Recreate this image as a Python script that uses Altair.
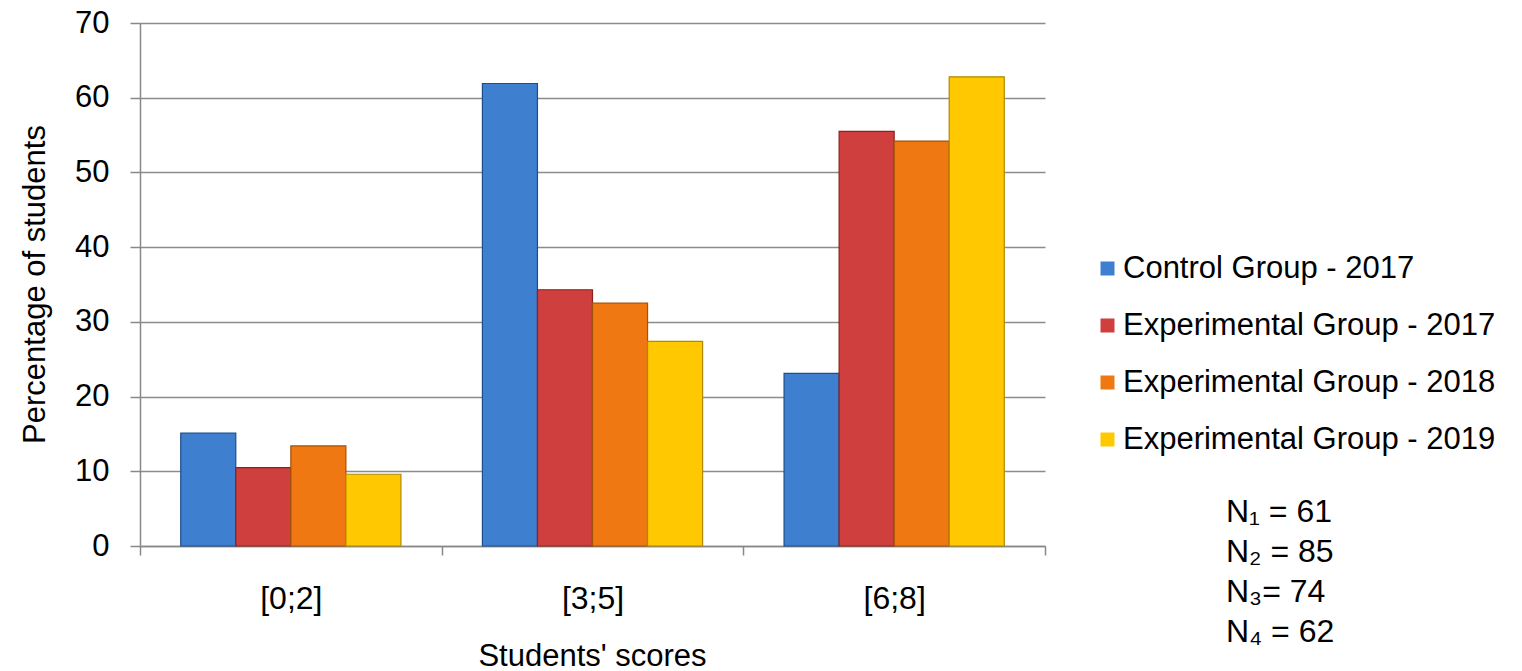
import altair as alt
import pandas as pd

categories = ["[0;2]", "[3;5]", "[6;8]"]
series = [
    "Control Group - 2017",
    "Experimental Group - 2017",
    "Experimental Group - 2018",
    "Experimental Group - 2019",
]
control_2017 = [15.1, 61.9, 23.1]
experimental_2017 = [10.5, 34.3, 55.5]
experimental_2018 = [13.4, 32.5, 54.2]
experimental_2019 = [9.6, 27.4, 62.8]
sample_sizes = ["N\u2081 = 61", "N\u2082 = 85", "N\u2083= 74", "N\u2084 = 62"]

fill_colors = ["#3f7fcf", "#cf3f3d", "#f07812", "#ffc800"]
edge_colors = ["#1d4e8c", "#8a2222", "#a4520a", "#b08a00"]

FONT = "Liberation Sans"

rows = []
for s, vals in zip(series, [control_2017, experimental_2017, experimental_2018, experimental_2019]):
    for c, v in zip(categories, vals):
        rows.append({"category": c, "series": s, "value": v})
df = pd.DataFrame(rows)

bars = alt.Chart(df).mark_bar(strokeWidth=1.2).encode(
    x=alt.X(
        "category:N",
        sort=categories,
        scale=alt.Scale(paddingInner=0, paddingOuter=0),
        axis=alt.Axis(
            title="Students' scores",
            labelAngle=0,
            labelFont=FONT,
            labelFontSize=32,
            labelColor="#000000",
            labelBaseline="alphabetic",
            labelPadding=53,
            tickBand="extent",
            tickSize=9,
            tickColor="#888888",
            tickWidth=1.5,
            domainColor="#888888",
            domainWidth=1.5,
            titleFont=FONT,
            titleFontSize=31,
            titleFontWeight="normal",
            titleColor="#000000",
            titleBaseline="alphabetic",
            titleX=452,
            titleY=119,
            titleAnchor="middle",
            titleAlign="center",
        ),
    ),
    xOffset=alt.XOffset("series:N", sort=series, scale=alt.Scale(paddingOuter=0.74, paddingInner=0)),
    y=alt.Y(
        "value:Q",
        scale=alt.Scale(domain=[0, 70], nice=False),
        axis=alt.Axis(
            title="Percentage of students",
            values=[0, 10, 20, 30, 40, 50, 60, 70],
            labelFont=FONT,
            labelFontSize=31,
            labelColor="#000000",
            labelPadding=21,
            tickSize=10,
            tickColor="#888888",
            tickWidth=1.5,
            domainColor="#888888",
            domainWidth=1.5,
            gridColor="#8c8c8c",
            gridWidth=1.5,
            titleFont=FONT,
            titleFontSize=31,
            titleFontWeight="normal",
            titleColor="#000000",
            titleX=-105,
            titleY=261,
            titleAngle=-90,
            titleBaseline="middle",
            titleAlign="center",
        ),
    ),
    color=alt.Color(
        "series:N",
        sort=series,
        scale=alt.Scale(domain=series, range=fill_colors),
        legend=alt.Legend(
            title=None,
            orient="none",
            legendX=952,
            legendY=230,
            symbolType="square",
            symbolSize=196,
            symbolStrokeWidth=0,
            labelFont=FONT,
            labelFontSize=31,
            labelColor="#000000",
            labelOffset=0,
            rowPadding=25,
            labelLimit=600,
        ),
    ),
    stroke=alt.Stroke(
        "series:N",
        sort=series,
        scale=alt.Scale(domain=series, range=edge_colors),
        legend=None,
    ),
)

notes = alt.Chart(pd.DataFrame({"k": [0]})).mark_text(
    text=sample_sizes,
    font=FONT,
    fontSize=32,
    align="left",
    baseline="alphabetic",
    lineHeight=40,
    color="#000000",
).encode(x=alt.value(1086), y=alt.value(499))

chart = alt.layer(bars, notes).properties(
    width=905,
    height=523,
    autosize=alt.AutoSizeParams(type="none"),
    padding={"left": 140, "top": 23, "right": 477, "bottom": 125},
    background="white",
).configure_view(stroke=None)

chart.save("out.html", embed_options={"renderer": "svg", "actions": False})
